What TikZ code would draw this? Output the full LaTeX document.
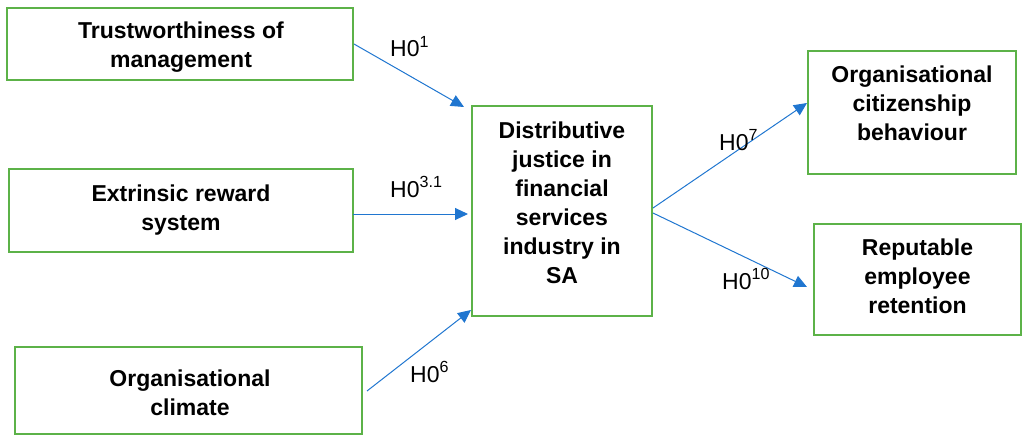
\documentclass[tikz,border=0pt]{standalone}
\usepackage{fontspec}
\setmainfont{Liberation Sans}
\usetikzlibrary{arrows.meta}
\definecolor{boxgreen}{RGB}{92,178,72}
\definecolor{arrblue}{RGB}{32,118,208}
\tikzset{
  box/.style={draw=boxgreen, line width=2pt, rectangle, inner sep=0pt},
  boxtext/.style={align=center, inner sep=0pt, font=\fontsize{23}{29}\selectfont\bfseries},
  hlabel/.style={anchor=base west, inner sep=0pt, font=\fontsize{23}{27}\selectfont},
  arr/.style={draw=arrblue, line width=1pt, -{Triangle[length=13pt,width=12pt]}}
}
\begin{document}
\begin{tikzpicture}[x=1pt,y=-1pt]
\useasboundingbox (0,0) rectangle (1023,436);
% boxes
\node[box, minimum width=346pt, minimum height=72pt] (trust) at (180,44) {};
\node[box, minimum width=344pt, minimum height=83pt] (ext) at (181,210.5) {};
\node[box, minimum width=347pt, minimum height=87pt] (clim) at (188.5,390.5) {};
\node[box, minimum width=180pt, minimum height=210pt] (cent) at (562,211) {};
\node[box, minimum width=208pt, minimum height=123pt] (ocb) at (912,112.5) {};
\node[box, minimum width=207pt, minimum height=111pt] (rep) at (917.5,279.5) {};
% texts
\node[boxtext] (trustT) at (181,47) {Trustworthiness of\\management};
\node[boxtext] (extT) at (181,210) {Extrinsic reward\\system};
\node[boxtext] (climT) at (190,392.5) {Organisational\\climate};
\node[boxtext] (centT) at (562,203) {Distributive\\justice in\\financial\\services\\industry in\\SA};
\node[boxtext] (ocbT) at (912,103) {Organisational\\citizenship\\behaviour};
\node[boxtext] (repT) at (917.5,276) {Reputable\\employee\\retention};
% connector ends
\coordinate (t1) at (464,107);
\coordinate (s2) at (353,214);
\coordinate (t2) at (468,214);
\coordinate (s3) at (367,391);
\coordinate (t3) at (471,310);
\coordinate (s4) at (653,208);
\coordinate (t4) at (807,103);
\coordinate (s5) at (653,213);
\coordinate (t5) at (807,287);
% connectors
\draw[arr] (trust.east) -- (t1);
\draw[arr] (s2) -- (t2);
\draw[arr] (s3) -- (t3);
\draw[arr] (s4) -- (t4);
\draw[arr] (s5) -- (t5);
% labels
\node[hlabel] (h1) at (390,57) {H0\textsuperscript{1}};
\node[hlabel] (h31) at (390,197) {H0\textsuperscript{3.1}};
\node[hlabel] (h6) at (410,382) {H0\textsuperscript{6}};
\node[hlabel] (h7) at (719,150) {H0\textsuperscript{7}};
\node[hlabel] (h10) at (722,289) {H0\textsuperscript{10}};
\end{tikzpicture}
\end{document}
